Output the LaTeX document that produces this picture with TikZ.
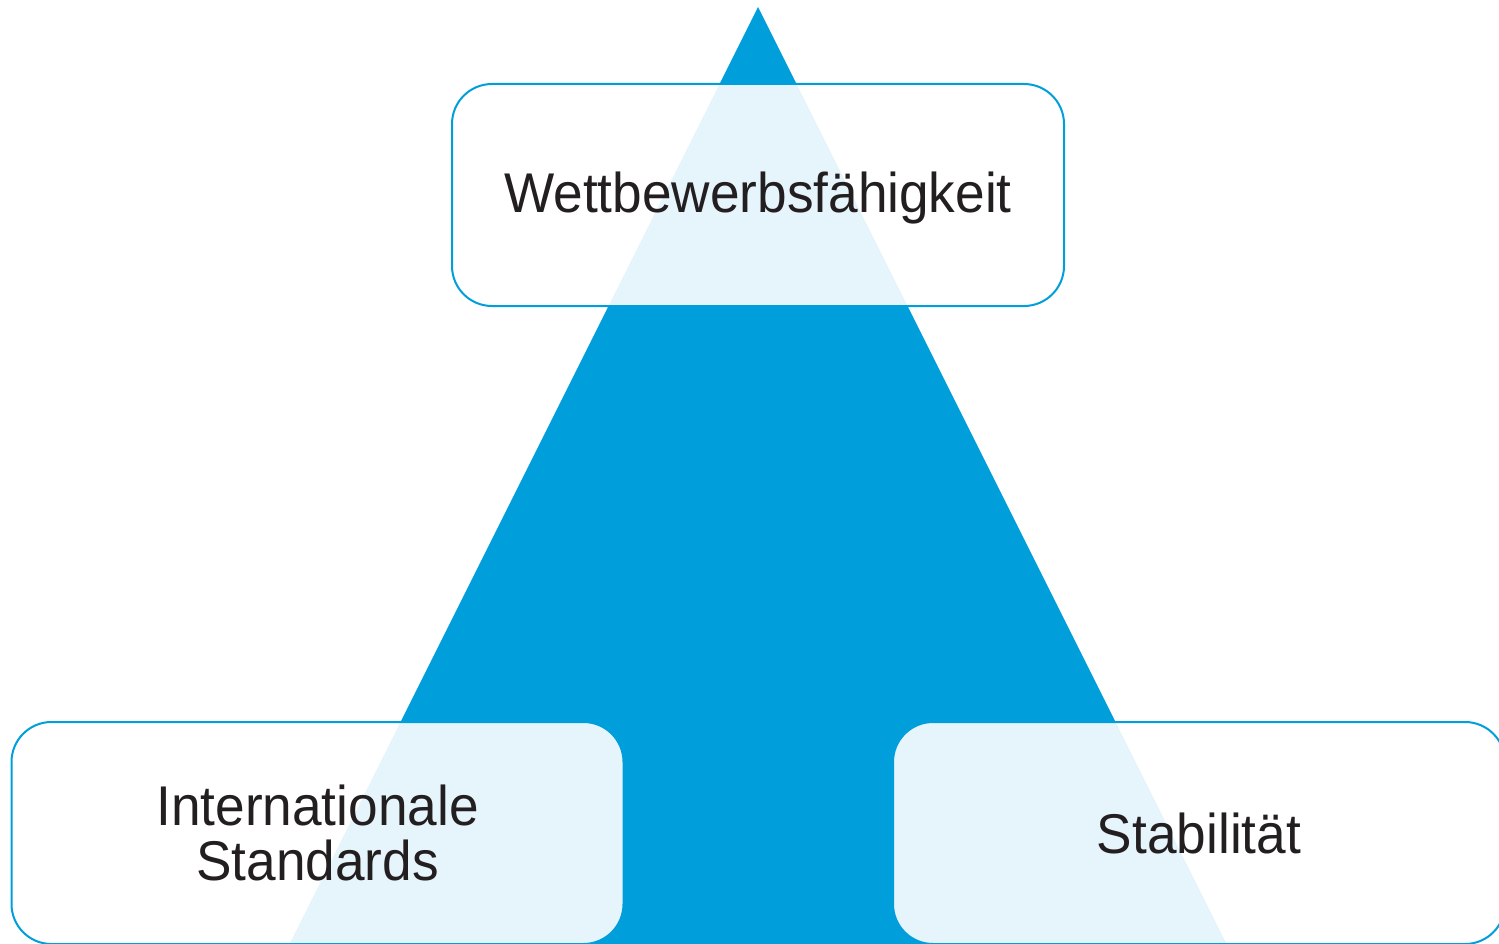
\documentclass[tikz,border=0pt]{standalone}
\usepackage{fontspec}
\setmainfont{Liberation Sans}
\newfontfamily\pillarfont[FakeStretch=0.95]{Liberation Sans}
\definecolor{pyrblue}{RGB}{0,158,219}
\definecolor{inkblack}{RGB}{35,31,32}
\tikzset{
  pillar/.style={draw=pyrblue, line width=2pt, fill=white, fill opacity=0.9,
    text opacity=1, text=inkblack, rounded corners=40pt,
    minimum width=612pt, minimum height=222pt, inner sep=0pt,
    align=center, font=\pillarfont\fontsize{56}{55}\selectfont}
}
\begin{document}
\begin{tikzpicture}[x=1pt,y=-1pt]
  \useasboundingbox (0,0) rectangle (1499,944);
  \clip (0,0) rectangle (1499,944);
  % pyramid
  \fill[pyrblue] (758,7) -- (258,1007) -- (1258,1007) -- cycle;
  % the three pillars
  \node[pillar] (top) at (758,195) {};
  \node[inkblack, font=\pillarfont\fontsize{56}{55}\selectfont] (toplabel) at (758,198) {Wettbewerbsfähigkeit};
  \node[pillar] (left) at (317.5,833) {Internationale\\Standards};
  \node[pillar] (right) at (1199,833) {Stabilität};
\end{tikzpicture}
\end{document}
